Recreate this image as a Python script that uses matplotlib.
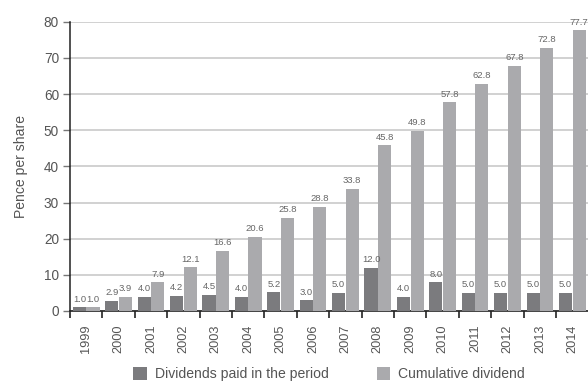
import matplotlib
matplotlib.use("Agg")
import matplotlib.pyplot as plt
import numpy as np

years = ["1999", "2000", "2001", "2002", "2003", "2004", "2005", "2006",
         "2007", "2008", "2009", "2010", "2011", "2012", "2013", "2014"]
paid = [1.0, 2.9, 4.0, 4.2, 4.5, 4.0, 5.2, 3.0, 5.0, 12.0, 4.0, 8.0, 5.0, 5.0, 5.0, 5.0]
cumulative = [1.0, 3.9, 7.9, 12.1, 16.6, 20.6, 25.8, 28.8, 33.8, 45.8, 49.8,
              57.8, 62.8, 67.8, 72.8, 77.7]
series_names = ["Dividends paid in the period", "Cumulative dividend"]

plt.rcParams["font.family"] = ["Liberation Sans", "DejaVu Sans"]

W, H = 588, 381
fig = plt.figure(figsize=(W / 100, H / 100), dpi=100)
left, right, top, bottom = 70, 588.5, 21.7, 311
ax = fig.add_axes([left / W, 1 - bottom / H, (right - left) / W, (bottom - top) / H])

dark = "#7b7b7e"
light = "#aaaaad"
text_col = "#555555"

x = np.arange(len(years))
w = 0.405
b1 = ax.bar(x - 0.21, paid, width=w, color=dark, zorder=3, label=series_names[0])
b2 = ax.bar(x + 0.21, cumulative, width=w, color=light, zorder=3, label=series_names[1])

for bars, vals in ((b1, paid), (b2, cumulative)):
    for rect, v in zip(bars, vals):
        ax.annotate(f"{v:.1f}", (rect.get_x() + rect.get_width() / 2, v),
                    xytext=(0, 2.5), textcoords="offset points",
                    ha="center", va="bottom", fontsize=6.8, color="#666666",
                    annotation_clip=False)

ax.set_xlim(-0.5, len(years) - 0.5)
ax.set_ylim(0, 80)
ax.set_yticks(np.arange(0, 81, 10))
ax.yaxis.grid(True, color="#c9c9c9", linewidth=1.2, zorder=0)
ax.set_axisbelow(True)

ax.set_xticks(x)
ax.set_xticklabels(years, rotation=90, fontsize=9.2, color=text_col)
ax.set_xticks(np.arange(-0.5, len(years) - 0.5, 1), minor=True)
ax.tick_params(axis="x", which="major", length=0, pad=10)
ax.tick_params(axis="x", which="minor", length=5, width=1.2, color="#222222")
ax.tick_params(axis="y", length=5, width=1, color="#777777", labelsize=9.8,
               labelcolor=text_col, pad=3)

for s in ("top", "right"):
    ax.spines[s].set_visible(False)
ax.spines["left"].set_color("#222222")
ax.spines["bottom"].set_color("#222222")
ax.spines["left"].set_linewidth(1.1)
ax.spines["bottom"].set_linewidth(1.2)

ax.set_ylabel("Pence per share", fontsize=10.1, color=text_col, labelpad=11)

fig.legend(handles=[b1, b2], labels=series_names, loc="center",
           bbox_to_anchor=((left + right) / 2 / W, 1 - 374 / H), ncol=2, frameon=False,
           fontsize=10.1, labelcolor=text_col, handlelength=0.95, handleheight=1.0,
           handletextpad=0.6, columnspacing=3.4, borderpad=0, borderaxespad=0)

fig.savefig("out.png", dpi=100)
